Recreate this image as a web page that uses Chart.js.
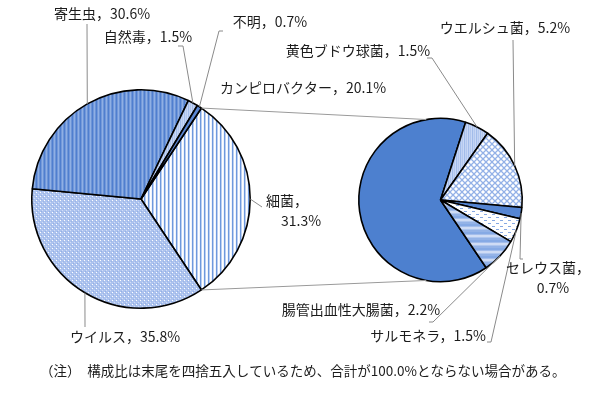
<!DOCTYPE html>
<html><head><meta charset="utf-8">
<script src="https://cdn.jsdelivr.net/npm/chart.js@4.4.1/dist/chart.umd.min.js"></script>
<style>
html,body{margin:0;padding:0;background:#fff;}
#wrap{position:relative;width:600px;height:394px;overflow:hidden;}
#wrap canvas{position:absolute;left:0;top:0;}
</style></head><body>
<div id="wrap"><canvas id="c1" width="600" height="394"></canvas><canvas id="c2" width="600" height="394"></canvas></div>
<script>
// ---- data ----
const mainLabels = ['細菌', 'ウイルス', '寄生虫', '自然毒', '不明'];
const mainValues = [31.3, 35.8, 30.6, 1.5, 0.7];
const subLabels = ['カンピロバクター', '黄色ブドウ球菌', 'ウエルシュ菌', 'セレウス菌', 'サルモネラ', '腸管出血性大腸菌'];
const subValues = [20.1, 1.5, 5.2, 0.7, 1.5, 2.2];
const noteText = '（注）　構成比は末尾を四捨五入しているため、合計が100.0%とならない場合がある。';

// ---- styling helpers ----
const FONT = "14px 'Noto Sans CJK JP', 'Noto Sans', sans-serif";
const TEXT_COLOR = '#1c1c1c';
const LINE_COLOR = '#8a8a8a';

function makePattern(ctx, w, h, draw) {
  const c = document.createElement('canvas');
  c.width = w; c.height = h;
  const g = c.getContext('2d');
  draw(g, w, h);
  return ctx.createPattern(c, 'repeat');
}
function px(g, x, y, col) { g.fillStyle = col; g.fillRect(x, y, 1, 1); }

function buildPatterns(ctx) {
  return {
    vstripesWhite: makePattern(ctx, 4, 4, (g) => {
      g.fillStyle = '#ffffff'; g.fillRect(0, 0, 4, 4);
      g.fillStyle = '#6e99dd'; g.fillRect(0, 0, 1, 4);
      g.fillStyle = '#bccff1'; g.fillRect(1, 0, 1, 4);
      g.fillStyle = '#eef3fc'; g.fillRect(3, 0, 1, 4);
    }),
    vstripesBlue: makePattern(ctx, 4, 4, (g) => {
      const cols = ['#4f7fcf', '#7398da', '#8fb0e4', '#6d94d7'];
      cols.forEach((c, i) => { g.fillStyle = c; g.fillRect(i, 0, 1, 4); });
    }),
    dotsLight: makePattern(ctx, 4, 4, (g) => {
      g.fillStyle = '#adc3ee'; g.fillRect(0, 0, 4, 4);
      px(g, 0, 0, '#ffffff'); px(g, 2, 2, '#d2def7');
      px(g, 1, 3, '#93b0e6'); px(g, 3, 1, '#9bb6e8');
    }),
    lattice: makePattern(ctx, 6, 6, (g) => {
      g.fillStyle = '#ffffff'; g.fillRect(0, 0, 6, 6);
      g.strokeStyle = '#93b1e7'; g.lineWidth = 1.3;
      g.beginPath();
      g.moveTo(-1, -1); g.lineTo(7, 7);
      g.moveTo(7, -1); g.lineTo(-1, 7);
      g.stroke();
    }),
    dashes: makePattern(ctx, 8, 6, (g) => {
      g.fillStyle = '#ffffff'; g.fillRect(0, 0, 8, 6);
      g.fillStyle = '#86a8e3';
      g.fillRect(0, 1, 3, 1); g.fillRect(4, 4, 3, 1);
    }),
    hstripes: makePattern(ctx, 4, 8, (g) => {
      const rows = ['#86aae5', '#86aae5', '#a3bdeb', '#cfdcf5', '#cfdcf5', '#afc6ee', '#94b3e7', '#94b3e7'];
      rows.forEach((c, i) => { g.fillStyle = c; g.fillRect(0, i, 4, 1); });
    }),
    lightStripe: makePattern(ctx, 4, 4, (g) => {
      const cols = ['#a2bcea', '#c2d3f3', '#b2c7ef', '#c9d8f5'];
      cols.forEach((c, i) => { g.fillStyle = c; g.fillRect(i, 0, 1, 4); });
    })
  };
}

function arcMid(chart, i) {
  const el = chart.getDatasetMeta(0).data[i];
  const p = el.getProps(['x', 'y', 'startAngle', 'endAngle', 'outerRadius'], true);
  const a = (p.startAngle + p.endAngle) / 2;
  return [p.x + Math.cos(a) * p.outerRadius, p.y + Math.sin(a) * p.outerRadius];
}
function drawLeader(ctx, pts, end) {
  ctx.beginPath();
  ctx.moveTo(pts[0][0], pts[0][1]);
  for (let k = 1; k < pts.length; k++) ctx.lineTo(pts[k][0], pts[k][1]);
  ctx.lineTo(end[0], end[1]);
  ctx.stroke();
}
function fmt(v) { return v.toFixed(1) + '%'; }
function drawText(ctx, t, x, y, align) {
  ctx.textAlign = align || 'center';
  ctx.fillText(t, x, y);
}

// ---- label layout (positions only) ----
const mainLabelLayout = [
  { lines: [[287, 201], [301, 221]], leader: [[262, 207]] },          // 細菌
  { lines: [[125, 337]], leader: [[85, 327]] },                        // ウイルス
  { lines: [[102, 14]], leader: [[87, 24]] },                          // 寄生虫
  { lines: [[148, 37]], leader: [[178, 46], [183, 46]] },              // 自然毒
  { lines: [[270, 22]], leader: [[223, 31], [219, 31]] }               // 不明
];
const subLabelLayout = [
  { lines: [[303, 88]], leader: null },                                // カンピロバクター
  { lines: [[358, 51]], leader: [[427, 58], [432, 58]] },              // 黄色ブドウ球菌
  { lines: [[505, 28]], leader: [[513, 40]] },                         // ウエルシュ菌
  { lines: [[548, 268], [553, 288]], leader: [[523, 259], [520, 259]] }, // セレウス菌
  { lines: [[428, 336]], leader: [[487, 342], [491, 342]] },           // サルモネラ
  { lines: [[361, 310]], leader: [[429, 322], [433, 322]] }            // 腸管出血性大腸菌
];

function labelTexts(name, value, nLines) {
  if (nLines === 2) return [name + '，', fmt(value)];
  return [name + '，' + fmt(value)];
}

function drawLabels(chart, names, values, layout) {
  const ctx = chart.ctx;
  ctx.save();
  ctx.strokeStyle = LINE_COLOR; ctx.lineWidth = 1;
  layout.forEach((L, i) => {
    if (L.leader) drawLeader(ctx, L.leader, arcMid(chart, i));
  });
  ctx.font = FONT; ctx.fillStyle = TEXT_COLOR; ctx.textBaseline = 'middle';
  layout.forEach((L, i) => {
    const texts = labelTexts(names[i], values[i], L.lines.length);
    texts.forEach((t, k) => drawText(ctx, t, L.lines[k][0], L.lines[k][1]));
  });
  ctx.restore();
}

const ctx1 = document.getElementById('c1').getContext('2d');
const ctx2 = document.getElementById('c2').getContext('2d');
const P1 = buildPatterns(ctx1);
const P2 = buildPatterns(ctx2);

const mainTotal = mainValues.reduce((a, b) => a + b, 0);
const mainRotation = 90 - (mainValues[0] / mainTotal) * 180;

const chart1 = new Chart(ctx1, {
  type: 'pie',
  data: {
    labels: mainLabels,
    datasets: [{
      data: mainValues,
      backgroundColor: [P1.vstripesWhite, P1.dotsLight, P1.vstripesBlue, P1.lightStripe, '#5a86d2'],
      borderColor: '#000',
      borderWidth: 1.6
    }]
  },
  options: {
    responsive: false, devicePixelRatio: 1, animation: false,
    rotation: mainRotation,
    layout: { padding: { left: 31, right: 349, top: 89, bottom: 85 } },
    plugins: { legend: { display: false }, tooltip: { enabled: false } }
  },
  plugins: [{
    id: 'mainLabels',
    afterDraw(chart) { drawLabels(chart, mainLabels, mainValues, mainLabelLayout); }
  }]
});

const chart2 = new Chart(ctx2, {
  type: 'pie',
  data: {
    labels: subLabels,
    datasets: [{
      data: subValues,
      backgroundColor: ['#4d80cf', P2.lightStripe, P2.lattice, '#5585d2', P2.dashes, P2.hstripes],
      borderColor: '#000',
      borderWidth: 1.6
    }]
  },
  options: {
    responsive: false, devicePixelRatio: 1, animation: false,
    rotation: 146,
    layout: { padding: { left: 358, right: 77, top: 117, bottom: 111 } },
    plugins: { legend: { display: false }, tooltip: { enabled: false } }
  },
  plugins: [{
    id: 'subLabels',
    afterDraw(chart) {
      const ctx = chart.ctx;
      // connector lines between the split slice and the secondary pie
      const src = chart1.getDatasetMeta(0).data[0].getProps(['x', 'y', 'startAngle', 'endAngle', 'outerRadius'], true);
      const dst = chart.getDatasetMeta(0).data[0].getProps(['x', 'y', 'outerRadius'], true);
      const off = 10 * Math.PI / 180;
      const a1 = [src.x + Math.cos(src.startAngle) * src.outerRadius, src.y + Math.sin(src.startAngle) * src.outerRadius];
      const a2 = [src.x + Math.cos(src.endAngle) * src.outerRadius, src.y + Math.sin(src.endAngle) * src.outerRadius];
      const b1 = [dst.x + Math.cos(-Math.PI / 2 - off) * dst.outerRadius, dst.y + Math.sin(-Math.PI / 2 - off) * dst.outerRadius];
      const b2 = [dst.x + Math.cos(Math.PI / 2 + off) * dst.outerRadius, dst.y + Math.sin(Math.PI / 2 + off) * dst.outerRadius];
      ctx.save();
      ctx.strokeStyle = '#9a9a9a'; ctx.lineWidth = 1;
      ctx.beginPath();
      ctx.moveTo(a1[0], a1[1]); ctx.lineTo(b1[0], b1[1]);
      ctx.moveTo(a2[0], a2[1]); ctx.lineTo(b2[0], b2[1]);
      ctx.stroke();
      ctx.restore();
      drawLabels(chart, subLabels, subValues, subLabelLayout);
      ctx.save();
      ctx.font = "13.5px 'Noto Sans CJK JP', sans-serif";
      ctx.fillStyle = TEXT_COLOR; ctx.textBaseline = 'middle';
      drawText(ctx, noteText, 40, 371, 'left');
      ctx.restore();
    }
  }]
});
</script>
</body></html>
